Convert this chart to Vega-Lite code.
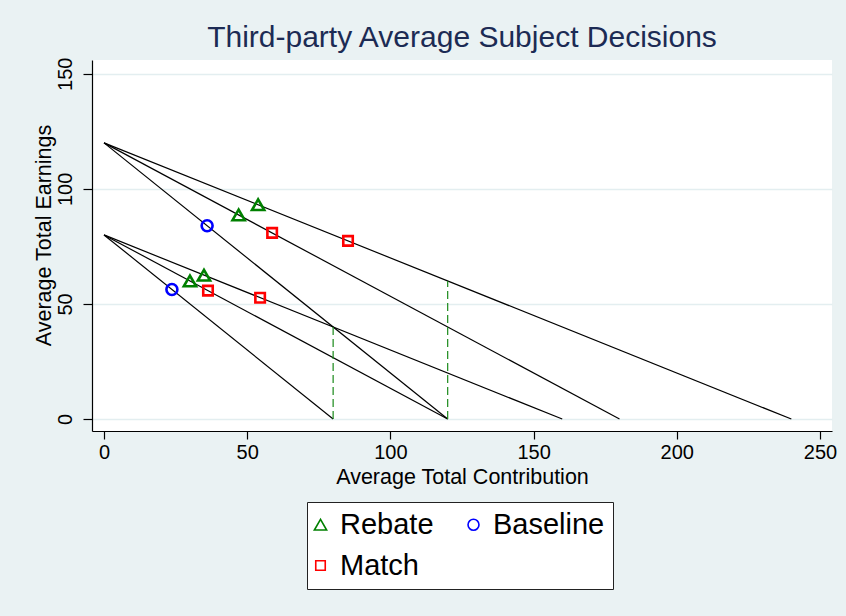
{
  "$schema": "https://vega.github.io/schema/vega-lite/v6.json",
  "width": 740,
  "height": 371,
  "autosize": {"type": "none"},
  "padding": {"left": 92, "top": 60, "right": 14, "bottom": 185},
  "background": "#eaf2f3",
  "config": {
    "view": {"fill": "white", "stroke": null},
    "font": "Liberation Sans",
    "axis": {
      "domainColor": "black",
      "domainWidth": 1.2,
      "tickColor": "black",
      "tickWidth": 1.2,
      "labelColor": "black",
      "titleColor": "black",
      "labelFont": "Liberation Sans",
      "titleFont": "Liberation Sans",
      "labelFontSize": 20,
      "titleFontSize": 21.5,
      "titleFontWeight": "normal"
    }
  },
  "title": {
    "text": "Third-party Average Subject Decisions",
    "font": "Liberation Sans",
    "fontSize": 30,
    "fontWeight": "normal",
    "color": "#1c2b54",
    "anchor": "middle",
    "offset": 4
  },
  "layer": [
    {
      "data": {
        "values": [
          {"x0": 0, "y0": 120, "x1": 120, "y1": 0},
          {"x0": 0, "y0": 120, "x1": 180, "y1": 0},
          {"x0": 0, "y0": 120, "x1": 240, "y1": 0},
          {"x0": 0, "y0": 80, "x1": 80, "y1": 0},
          {"x0": 0, "y0": 80, "x1": 120, "y1": 0},
          {"x0": 0, "y0": 80, "x1": 160, "y1": 0}
        ]
      },
      "mark": {"type": "rule", "color": "black", "strokeWidth": 1.2},
      "encoding": {
        "x": {
          "field": "x0",
          "type": "quantitative",
          "scale": {"domain": [-4.2, 254.2], "nice": false, "zero": false},
          "axis": {
            "title": "Average Total Contribution",
            "values": [0, 50, 100, 150, 200, 250],
            "grid": false,
            "tickSize": 8,
            "labelPadding": 3,
            "titlePadding": 4
          }
        },
        "y": {
          "field": "y0",
          "type": "quantitative",
          "scale": {"domain": [-5.2, 156], "nice": false, "zero": false},
          "axis": {
            "title": "Average Total Earnings",
            "values": [0, 50, 100, 150],
            "grid": true,
            "gridColor": "#e3eef0",
            "gridWidth": 1.5,
            "tickSize": 9,
            "labelAngle": -90,
            "labelPadding": 8,
            "titlePadding": 0,
            "titleY": 175
          }
        },
        "x2": {"field": "x1"},
        "y2": {"field": "y1"}
      }
    },
    {
      "data": {
        "values": [
          {"x0": 80, "y0": 0, "y1": 40},
          {"x0": 120, "y0": 0, "y1": 60}
        ]
      },
      "mark": {"type": "rule", "color": "#1a8a1a", "strokeWidth": 1.2, "strokeDash": [8, 4]},
      "encoding": {
        "x": {"field": "x0", "type": "quantitative"},
        "y": {"field": "y0", "type": "quantitative"},
        "y2": {"field": "y1"}
      }
    },
    {
      "data": {
        "values": [
          {"treatment": "Rebate", "contribution": 47, "earnings": 88.7},
          {"treatment": "Rebate", "contribution": 53.8, "earnings": 93.1},
          {"treatment": "Rebate", "contribution": 30, "earnings": 60},
          {"treatment": "Rebate", "contribution": 34.9, "earnings": 62.5},
          {"treatment": "Baseline", "contribution": 36, "earnings": 84},
          {"treatment": "Baseline", "contribution": 23.7, "earnings": 56.3},
          {"treatment": "Match", "contribution": 58.7, "earnings": 80.9},
          {"treatment": "Match", "contribution": 85.2, "earnings": 77.4},
          {"treatment": "Match", "contribution": 36.3, "earnings": 55.8},
          {"treatment": "Match", "contribution": 54.5, "earnings": 52.7}
        ]
      },
      "mark": {"type": "point", "filled": false, "strokeWidth": 2.6, "opacity": 1},
      "encoding": {
        "x": {"field": "contribution", "type": "quantitative"},
        "y": {"field": "earnings", "type": "quantitative"},
        "size": {
          "field": "treatment",
          "type": "nominal",
          "scale": {"domain": ["Rebate", "Baseline", "Match"], "range": [150, 90, 100]},
          "legend": null
        },
        "color": {
          "field": "treatment",
          "type": "nominal",
          "scale": {"domain": ["Rebate", "Baseline", "Match"], "range": ["#008000", "#0000ff", "#ff0000"]},
          "legend": {
            "orient": "none",
            "legendX": 215,
            "legendY": 442,
            "direction": "horizontal",
            "columns": 2,
            "title": null,
            "labelFont": "Liberation Sans",
            "labelFontSize": 29,
            "labelColor": "black",
            "labelOffset": 5,
            "symbolSize": 60,
            "symbolOffset": -9,
            "symbolStrokeWidth": 1.6,
            "strokeColor": "#222222",
            "fillColor": "white",
            "padding": 8,
            "rowPadding": 11,
            "columnPadding": 30
          }
        },
        "shape": {
          "field": "treatment",
          "type": "nominal",
          "scale": {"domain": ["Rebate", "Baseline", "Match"], "range": ["triangle-up", "circle", "square"]},
          "legend": {
            "orient": "none",
            "legendX": 215,
            "legendY": 442,
            "direction": "horizontal",
            "columns": 2,
            "title": null,
            "labelFont": "Liberation Sans",
            "labelFontSize": 29,
            "labelColor": "black",
            "labelOffset": 5,
            "symbolSize": 60,
            "symbolOffset": -9,
            "symbolStrokeWidth": 1.6,
            "strokeColor": "#222222",
            "fillColor": "white",
            "padding": 8,
            "rowPadding": 11,
            "columnPadding": 30
          }
        }
      }
    }
  ]
}
